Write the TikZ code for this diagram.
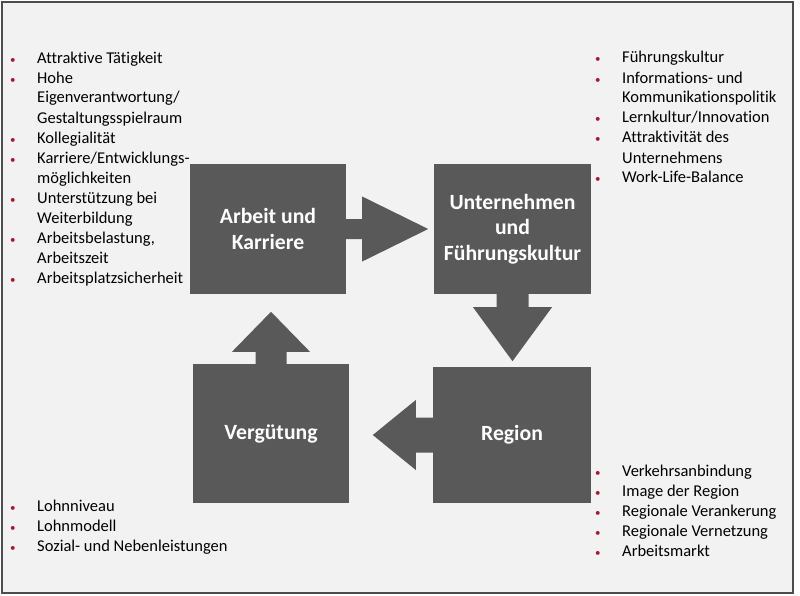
\documentclass[tikz,border=0pt]{standalone}
\usepackage{fontspec}
\setmainfont{Carlito}[Ligatures=NoCommon]
\usetikzlibrary{calc}
\definecolor{panelgrey}{HTML}{F2F2F2}
\definecolor{boxgrey}{HTML}{595959}
\definecolor{framegrey}{HTML}{4D4D4D}
\definecolor{bulletred}{HTML}{A6192E}
% bullet and indent for the factor lists
\newcommand\itm{\makebox[27pt][l]{\textcolor{bulletred}{\fontsize{11}{11}\selectfont\textbullet}}}
\newcommand\cnt{\hspace*{27pt}}
\tikzset{
  stage/.style={fill=boxgrey, text=white, align=center,
    font=\fontsize{21.7}{25.5}\selectfont\bfseries},
  flow/.style={fill=boxgrey},
  factors/.style={anchor=base west, align=left, inner sep=0pt,
    font=\fontsize{16.5}{20}\selectfont}
}
\begin{document}
\begin{tikzpicture}[x=1pt, y=-1pt]
  \useasboundingbox (0,0) rectangle (800,596);
  % the slide panel
  \draw[framegrey, line width=2pt, fill=panelgrey] (2,2) rectangle (793,593);

  % the four fields
  \node[stage, minimum width=156, minimum height=130] (arbeit) at (268,229) {Arbeit und\\Karriere};
  \node[stage, minimum width=157, minimum height=130] (unternehmen) at (512.5,229) {Unternehmen\\und\\Führungskultur};
  \node[stage, minimum width=158, minimum height=136] (region) at (512,435) {Region};
  \node[stage, minimum width=156, minimum height=139] (verguetung) at (271,433.5) {Vergütung};

  % the block arrows between the fields
  \fill[flow] ($(arbeit.east)+(-1,-10)$) -- ++(17,0) -- ++(0,-22.5) -- ++(66,32.5)
    -- ++(-66,32.5) -- ++(0,-22.5) -- ++(-17,0) -- cycle;
  \fill[flow] ($(unternehmen.south)+(-16,-1)$) -- ++(0,14) -- ++(-23.5,0) -- ++(39.5,54)
    -- ++(39.5,-54) -- ++(-23.5,0) -- ++(0,-14) -- cycle;
  \fill[flow] ($(region.west)+(1,-17.5)$) -- ++(-18,0) -- ++(0,-17.5) -- ++(-43,35)
    -- ++(43,35) -- ++(0,-17.5) -- ++(18,0) -- cycle;
  \fill[flow] ($(verguetung.north)+(-15.5,1)$) -- ++(0,-13) -- ++(-23.5,0) -- ++(39,-40)
    -- ++(39,40) -- ++(-23.5,0) -- ++(0,13) -- cycle;

  % the factor lists (placed at the baseline of their last line)
  \node[factors] (arbeitlist) at (10,283) {\itm Attraktive Tätigkeit\\
    \itm Hohe\\ \cnt Eigenverantwortung/\\ \cnt Gestaltungsspielraum\\
    \itm Kollegialität\\ \itm Karriere/Entwicklungs-\\ \cnt möglichkeiten\\
    \itm Unterstützung bei\\ \cnt Weiterbildung\\ \itm Arbeitsbelastung,\\
    \cnt Arbeitszeit\\ \itm Arbeitsplatzsicherheit};
  \node[factors] (unternehmenlist) at (595,183) {\itm Führungskultur\\
    \itm Informations- und\\ \cnt Kommunikationspolitik\\
    \itm Lernkultur/Innovation\\ \itm Attraktivität des\\ \cnt Unternehmens\\
    \itm Work-Life-Balance};
  \node[factors] (regionlist) at (595,556) {\itm Verkehrsanbindung\\
    \itm Image der Region\\ \itm Regionale Verankerung\\
    \itm Regionale Vernetzung\\ \itm Arbeitsmarkt};
  \node[factors] (verguetunglist) at (10,551) {\itm Lohnniveau\\
    \itm Lohnmodell\\ \itm Sozial- und Nebenleistungen};
\end{tikzpicture}
\end{document}
